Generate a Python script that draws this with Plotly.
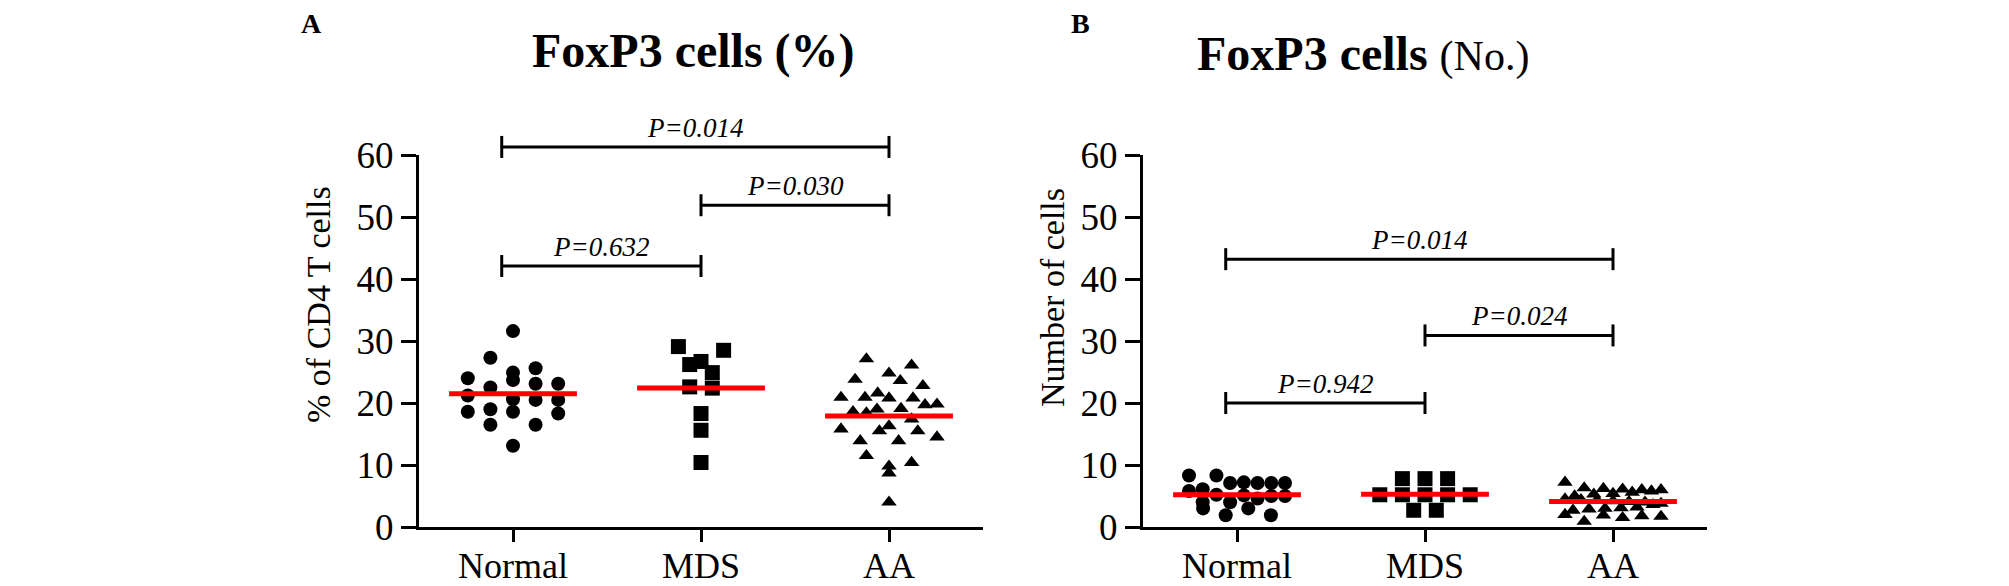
import plotly.graph_objects as go

# ---------------- data ----------------
categories = ["Normal", "MDS", "AA"]

pct_normal = [31.6, 27.3, 25.6, 24.9, 24.0, 23.7, 23.1, 23.1, 22.5, 21.2,
              20.6, 20.5, 20.5, 19.0, 18.6, 18.3, 18.6, 16.5, 16.5, 13.1]
pct_mds = [29.1, 28.5, 26.7, 24.9, 26.2, 22.4, 22.6, 18.3, 15.6, 10.4]
pct_aa = [27.1, 26.1, 24.8, 23.8, 23.6, 22.8, 21.6, 20.8, 20.9, 20.8, 20.9,
          19.8, 19.1, 18.6, 19.7, 19.0, 18.4, 17.4, 16.3, 15.8, 15.5, 15.5,
          14.5, 13.9, 13.9, 11.5, 10.4, 9.8, 8.7, 4.0]
pct_means = [21.5, 22.4, 17.9]

num_normal = [8.3, 8.3, 7.1, 7.1, 7.2, 7.1, 7.1, 6.1, 5.8, 5.2,
              5.0, 5.0, 5.1, 4.6, 4.0, 4.0, 3.0, 3.0, 1.9, 1.9]
num_mds = [7.8, 7.8, 7.8, 5.2, 5.2, 5.2, 5.2, 5.2, 2.7, 2.7]
num_aa = [7.2, 6.3, 6.1, 6.0, 6.2, 5.8, 6.0, 5.6, 5.3, 5.4,
          5.0, 4.4, 4.2, 4.3, 4.0, 4.1, 3.8, 4.5, 3.6, 3.2,
          3.0, 2.9, 3.1, 2.7, 2.0, 1.8, 1.9, 1.7, 1.5, 0.9]
num_means = [5.2, 5.3, 4.1]

y_ticks = [0, 10, 20, 30, 40, 50, 60]

pairs = [(0, 2), (1, 2), (0, 1)]
pct_bracket_y = [61.3, 51.9, 42.1]
pct_p_labels = ["P=0.014", "P=0.030", "P=0.632"]
num_bracket_y = [43.2, 30.9, 20.0]
num_p_labels = ["P=0.014", "P=0.024", "P=0.942"]

# ---------------- layout geometry ----------------
W, H = 2009, 586
PLOT_W = 564          # px, x-axis length
PLOT_TOP, PLOT_BOT = 155, 527
A_LEFT, B_LEFT = 419, 1143
PX_PER_UNIT = (PLOT_BOT - PLOT_TOP) / 60.0
PX_PER_CAT = PLOT_W / 3.0
BIN_H = 15.0          # px, height of a row of the dot layout
SPACING = 22.6        # px, preferred spacing of dots within a row
MAX_HALF = 48.0       # px, maximal half width of a dot group

FONT = "Liberation Serif, Times New Roman, serif"


def paper_x(px):
    return px / W


def paper_y(py):
    return 1 - py / H


def dot_layout(values):
    """GraphPad-like scatter layout: rows of near-equal values are spread
    side by side around the category centre -> offsets in category units."""
    order = sorted(range(len(values)), key=lambda i: -values[i])
    offs = [0.0] * len(values)
    j = 0
    while j < len(order):
        top = values[order[j]]
        row = [order[j]]
        j += 1
        while j < len(order) and (top - values[order[j]]) * PX_PER_UNIT < BIN_H:
            row.append(order[j])
            j += 1
        n = len(row)
        sp = SPACING if n < 2 else min(SPACING, 2 * MAX_HALF / (n - 1))
        positions = [(k - (n - 1) / 2.0) * sp for k in range(n)]
        # alternate high / low values from left to right
        seq = []
        lo, hi = 0, n - 1
        while lo <= hi:
            seq.append(row[lo])
            if lo != hi:
                seq.append(row[hi])
            lo += 1
            hi -= 1
        for pos, idx in zip(positions, seq):
            offs[idx] = pos / PX_PER_CAT
    return offs


fig = go.Figure()

panels = [
    ("x", "y", A_LEFT, [pct_normal, pct_mds, pct_aa], pct_means,
     pct_bracket_y, pct_p_labels),
    ("x2", "y2", B_LEFT, [num_normal, num_mds, num_aa], num_means,
     num_bracket_y, num_p_labels),
]
symbols = ["circle", "square", "triangle-up"]
sizes = [14, 15, 13.5]

shapes = []
annotations = []

for xa, ya, left, series, means, b_ys, b_labels in panels:
    for ci, vals in enumerate(series):
        offs = dot_layout(vals)
        fig.add_trace(go.Scatter(
            x=[ci + o for o in offs], y=vals, xaxis=xa, yaxis=ya,
            mode="markers", cliponaxis=False, showlegend=False,
            hoverinfo="skip",
            marker=dict(symbol=symbols[ci], size=sizes[ci], color="black",
                        line=dict(width=0))))
    for ci, m in enumerate(means):
        fig.add_trace(go.Scatter(
            x=[ci - 0.34, ci + 0.34], y=[m, m], xaxis=xa, yaxis=ya,
            mode="lines", cliponaxis=False, showlegend=False,
            hoverinfo="skip",
            line=dict(color="#ff0000", width=5)))

    # significance brackets (paper coordinates so they are never clipped)
    def cat_px(c, left=left):
        return left + (c + 0.5) * PX_PER_CAT

    def val_px(v):
        return PLOT_BOT - v * PX_PER_UNIT

    for (a, b), yv, lab in zip(pairs, b_ys, b_labels):
        xa_px = cat_px(a - 0.06 if a == 0 else a)
        xb_px = cat_px(b)
        y_px = val_px(yv)
        cap = 11
        common = dict(type="line", xref="paper", yref="paper",
                      line=dict(color="black", width=3))
        shapes.append(dict(x0=paper_x(xa_px), x1=paper_x(xb_px),
                           y0=paper_y(y_px), y1=paper_y(y_px), **common))
        for xx in (xa_px, xb_px):
            shapes.append(dict(x0=paper_x(xx), x1=paper_x(xx),
                               y0=paper_y(y_px - cap), y1=paper_y(y_px + cap),
                               **common))
        annotations.append(dict(
            x=paper_x((xa_px + xb_px) / 2), y=paper_y(y_px - 2),
            xref="paper", yref="paper", text=lab, showarrow=False,
            xanchor="center", yanchor="bottom",
            font=dict(family=FONT, size=27, color="black", style="italic")))

annotations += [
    dict(x=paper_x(311), y=paper_y(23), xref="paper", yref="paper",
         text="<b>A</b>", showarrow=False, xanchor="center", yanchor="middle",
         font=dict(family=FONT, size=28, color="black")),
    dict(x=paper_x(1080), y=paper_y(23), xref="paper", yref="paper",
         text="<b>B</b>", showarrow=False, xanchor="center", yanchor="middle",
         font=dict(family=FONT, size=28, color="black")),
    dict(x=paper_x(693), y=paper_y(51), xref="paper", yref="paper",
         text="<b>FoxP3 cells (%)</b>", showarrow=False,
         xanchor="center", yanchor="middle",
         font=dict(family=FONT, size=48, color="black")),
    dict(x=paper_x(1363), y=paper_y(53), xref="paper", yref="paper",
         text="<b>FoxP3 cells</b> <span style='font-size:42px'>(No.)</span>",
         showarrow=False, xanchor="center", yanchor="middle",
         font=dict(family=FONT, size=48, color="black")),
    dict(x=paper_x(318), y=paper_y(305), xref="paper", yref="paper",
         text="% of CD4 T cells", textangle=-90, showarrow=False,
         xanchor="center", yanchor="middle",
         font=dict(family=FONT, size=34, color="black")),
    dict(x=paper_x(1052), y=paper_y(298), xref="paper", yref="paper",
         text="Number of cells", textangle=-90, showarrow=False,
         xanchor="center", yanchor="middle",
         font=dict(family=FONT, size=34, color="black")),
]

axis_common = dict(showline=True, linecolor="black", linewidth=3,
                   ticks="outside", tickwidth=3,
                   tickcolor="black", showgrid=False, zeroline=False,
                   automargin=False)
x_common = dict(range=[-0.5, 2.5], tickvals=[0, 1, 2], ticktext=categories,
                ticklen=12, ticklabelstandoff=-7,
                tickfont=dict(family=FONT, size=36, color="black"),
                **axis_common)
y_common = dict(range=[0, 60], tickvals=y_ticks, ticklen=15,
                tickfont=dict(family=FONT, size=37, color="black"),
                **axis_common)
y_dom = [paper_y(PLOT_BOT), paper_y(PLOT_TOP)]

fig.update_layout(
    width=W, height=H, margin=dict(l=0, r=0, t=0, b=0, pad=0),
    paper_bgcolor="white", plot_bgcolor="white",
    showlegend=False, hovermode=False,
    xaxis=dict(domain=[paper_x(A_LEFT), paper_x(A_LEFT + PLOT_W)],
               anchor="y", **x_common),
    yaxis=dict(domain=y_dom, anchor="x", **y_common),
    xaxis2=dict(domain=[paper_x(B_LEFT), paper_x(B_LEFT + PLOT_W)],
                anchor="y2", **x_common),
    yaxis2=dict(domain=y_dom, anchor="x2", **y_common),
    shapes=shapes, annotations=annotations,
)

fig.write_html(
    "out.html",
    config={"displayModeBar": False, "staticPlot": True},
    post_script="document.body.style.margin='0';"
                "document.body.style.overflow='hidden';",
)
